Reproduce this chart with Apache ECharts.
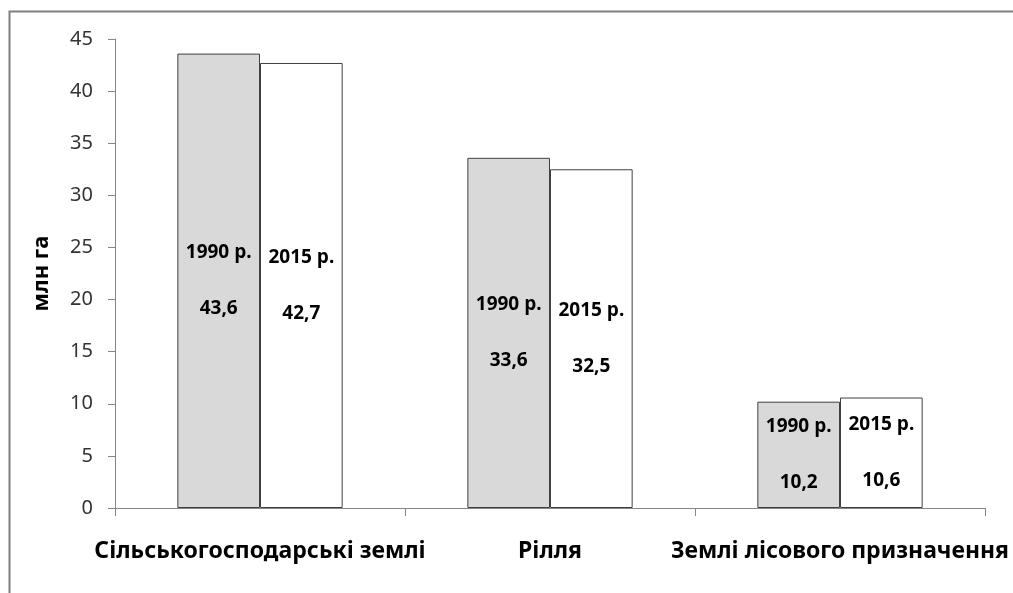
<!DOCTYPE html>
<html>
<head>
<meta charset="utf-8">
<script src="https://cdn.jsdelivr.net/npm/echarts@6/dist/echarts.min.js"></script>
<style>
html,body{margin:0;padding:0;background:#fff;}
#chart{width:1013px;height:593px;}
</style>
</head>
<body>
<div id="chart"></div>
<script>
const categories = ['Сільськогосподарські землі', 'Рілля', 'Землі лісового призначення'];
const seriesNames = ['1990 р.', '2015 р.'];
const values1990 = [43.6, 33.6, 10.2];
const values2015 = [42.7, 32.5, 10.6];
const yAxisName = 'млн га';

const FONT = '"Noto Sans", "DejaVu Sans", sans-serif';

function fmt(v){ return v.toFixed(1).replace('.', ','); }

const chart = echarts.init(document.getElementById('chart'), null, {renderer:'canvas'});

function labelCfg(){
  return {
    show: true,
    position: 'inside',
    formatter: p => p.seriesName + '\n\n' + fmt(p.value),
    fontFamily: FONT,
    fontWeight: 'bold',
    fontSize: 19,
    lineHeight: 28,
    color: '#000'
  };
}

chart.setOption({
  animation: false,
  backgroundColor: '#fff',
  graphic: [{
    type: 'rect',
    shape: {x: 9.5, y: 11.5, width: 1100, height: 700},
    style: {fill: 'none', stroke: '#7f7f7f', lineWidth: 2},
    silent: true,
    z: -10
  }],
  grid: {left: 115, right: 28, top: 39, bottom: 85, containLabel: false},
  xAxis: {
    type: 'category',
    data: categories,
    axisLine: {show: true, lineStyle: {color: '#868686', width: 1}},
    axisTick: {show: true, length: 8, lineStyle: {color: '#868686'}},
    axisLabel: {
      fontFamily: FONT, fontWeight: 'bold', fontSize: 23, color: '#000',
      margin: 32, interval: 0
    },
    splitLine: {show: false}
  },
  yAxis: {
    type: 'value',
    min: 0, max: 45, interval: 5,
    name: yAxisName,
    nameLocation: 'middle',
    nameRotate: 90,
    nameGap: 62,
    nameTextStyle: {fontFamily: FONT, fontWeight: 'bold', fontSize: 22, color: '#000'},
    axisLine: {show: true, lineStyle: {color: '#868686', width: 1}},
    axisTick: {show: true, length: 7, inside: false, lineStyle: {color: '#868686'}},
    axisLabel: {fontFamily: FONT, fontSize: 20, color: '#333', margin: 22},
    splitLine: {show: false}
  },
  series: [
    {
      name: seriesNames[0],
      type: 'bar',
      data: values1990,
      barGap: '0%',
      barCategoryGap: '43%',
      itemStyle: {color: '#d9d9d9', borderColor: '#404040', borderWidth: 1},
      label: labelCfg()
    },
    {
      name: seriesNames[1],
      type: 'bar',
      data: values2015,
      barGap: '0%',
      barCategoryGap: '43%',
      itemStyle: {color: '#ffffff', borderColor: '#404040', borderWidth: 1},
      label: labelCfg()
    }
  ]
});
</script>
</body>
</html>
